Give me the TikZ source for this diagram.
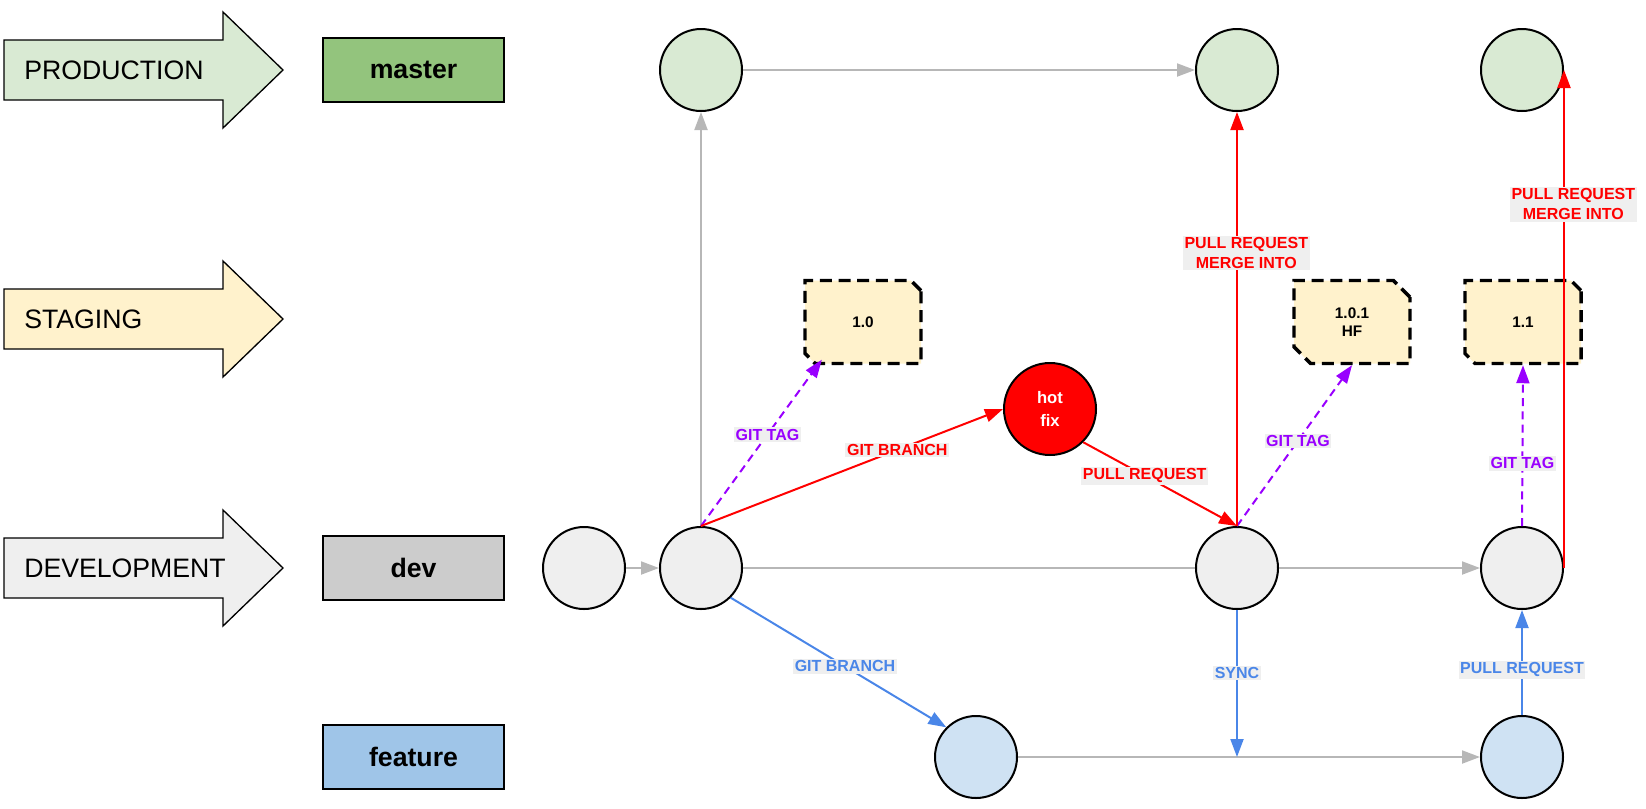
\documentclass[tikz,border=0pt]{standalone}
\usepackage{fontspec}
\setmainfont{Liberation Sans}
\usepackage{tikz}
\usetikzlibrary{arrows.meta,positioning,shapes.misc,calc}

\definecolor{prodfill}{HTML}{D9EAD3}
\definecolor{stagefill}{HTML}{FFF2CC}
\definecolor{devfill}{HTML}{EFEFEF}
\definecolor{masterbox}{HTML}{93C47D}
\definecolor{devbox}{HTML}{CCCCCC}
\definecolor{featbox}{HTML}{9FC5E8}
\definecolor{featfill}{HTML}{CFE2F3}
\definecolor{flowgray}{HTML}{B7B7B7}
\definecolor{tagpurple}{HTML}{9900FF}
\definecolor{gitblue}{HTML}{4A86E8}
\definecolor{gitred}{HTML}{FF0000}
\definecolor{lblbg}{HTML}{EFEFEF}

\tikzset{
  commit/.style={circle,draw=black,line width=1.5pt,minimum size=61.5pt,inner sep=0pt},
  branchbox/.style={draw=black,line width=1.5pt,minimum width=135.75pt,minimum height=48pt,
    font=\bfseries\fontsize{20}{24}\selectfont},
  tagbox/.style={chamfered rectangle,chamfered rectangle corners={north east,south west},
    chamfered rectangle xsep=9pt,fill=stagefill,draw=black,line width=2.6pt,
    dash pattern=on 9pt off 5pt,minimum width=87pt,minimum height=62.25pt,inner sep=0pt,
    align=center,font=\bfseries\fontsize{11.5}{13.5}\selectfont},
  lbl/.style={fill=lblbg,inner sep=1.2pt,align=center,font=\bfseries\fontsize{12}{15}\selectfont},
  tip/.style={-{Triangle[length=13.5pt,width=9.75pt]}},
  flow/.style={draw=flowgray,line width=1.5pt},
  gitmove/.style={draw=gitred,line width=1.5pt,tip},
  gittag/.style={draw=tagpurple,line width=1.5pt,dash pattern=on 6pt off 4pt,tip},
  gitfeat/.style={draw=gitblue,line width=1.5pt,tip}
}

\begin{document}
\begin{tikzpicture}[x=0.75pt,y=-0.75pt]
  \useasboundingbox (0,0) rectangle (1646,808);

  % environment arrows
  \foreach \y/\env/\col in {70/PRODUCTION/prodfill,319/STAGING/stagefill,568/DEVELOPMENT/devfill}{
    \draw[fill=\col,line width=1pt] (4,\y-30) -- (223,\y-30) -- (223,\y-58) -- (283,\y)
      -- (223,\y+58) -- (223,\y+30) -- (4,\y+30) -- cycle;
    \node[anchor=west,inner sep=0pt,font=\fontsize{20}{24}\selectfont] (env-\env) at (24,\y) {\env};
  }

  % branch names
  \node[branchbox,fill=masterbox] (master) at (413.5,70) {master};
  \node[branchbox,fill=devbox] (dev) at (413.5,568) {dev};
  \node[branchbox,fill=featbox] (feature) at (413.5,757) {feature};

  % commits
  \node[commit,fill=prodfill] (m1) at (701,70) {};
  \node[commit,fill=prodfill] (m2) at (1237,70) {};
  \node[commit,fill=prodfill] (m3) at (1522,70) {};
  \node[commit,fill=devfill] (d0) at (584,568) {};
  \node[commit,fill=devfill] (d1) at (701,568) {};
  \node[commit,fill=devfill] (d2) at (1237,568) {};
  \node[commit,fill=devfill] (d3) at (1522,568) {};
  \node[commit,fill=featfill] (f1) at (976,757) {};
  \node[commit,fill=featfill] (f2) at (1522,757) {};
  \node[circle,draw=black,line width=1.5pt,fill=gitred,minimum size=69pt,inner sep=0pt,
    text=white,align=center,font=\bfseries\fontsize{12.5}{17}\selectfont] (hotfix) at (1050,409) {hot\\fix};

  % tags
  \node[tagbox] (tag10) at (863,322) {1.0};
  \node[tagbox] (tag101) at (1352,322) {1.0.1\\HF};
  \node[tagbox] (tag11) at (1523,322) {1.1};

  \coordinate (sync) at (d2 |- f2);

  % plain flow
  \draw[flow,tip] (m1) -- (m2);
  \draw[flow,tip] (d0) -- (d1);
  \draw[flow,tip] (d1) -- (m1);
  \draw[flow] (d1) -- (d2);
  \draw[flow,tip] (d2) -- (d3);
  \draw[flow,tip] (f1) -- (f2);

  % tags
  \draw[gittag] (d1.north) -- ($(tag10.south west)+(13,0)$) node[lbl,text=tagpurple,pos=0.55]{GIT TAG};
  \draw[gittag] (d2.north) -- (tag101.south) node[lbl,text=tagpurple,pos=0.53]{GIT TAG};
  \draw[gittag] (d3.north) -- (tag11.south) node[lbl,text=tagpurple,pos=0.39]{GIT TAG};

  % hot fix
  \draw[gitmove] (d1.north) -- (hotfix.west) node[lbl,text=gitred,pos=0.65]{GIT BRANCH};
  \draw[gitmove] (hotfix.south east) -- (d2.north) node[lbl,text=gitred,pos=0.4]{PULL REQUEST};
  \draw[gitmove] (d2.north) -- (m2.south) node[lbl,text=gitred,pos=0.66,xshift=7pt]{PULL REQUEST\\MERGE INTO};
  \draw[gitmove] (d3.east) -- (m3.east) node[lbl,text=gitred,pos=0.73,xshift=7pt]{PULL REQUEST\\MERGE INTO};

  % feature
  \draw[gitfeat] (d1.south east) -- (f1.north west) node[lbl,text=gitblue,pos=0.53]{GIT BRANCH};
  \draw[gitfeat] (d2.south) -- (sync) node[lbl,text=gitblue,pos=0.43]{SYNC};
  \draw[gitfeat] (f2) -- (d3) node[lbl,text=gitblue,pos=0.43]{PULL REQUEST};
\end{tikzpicture}
\end{document}
